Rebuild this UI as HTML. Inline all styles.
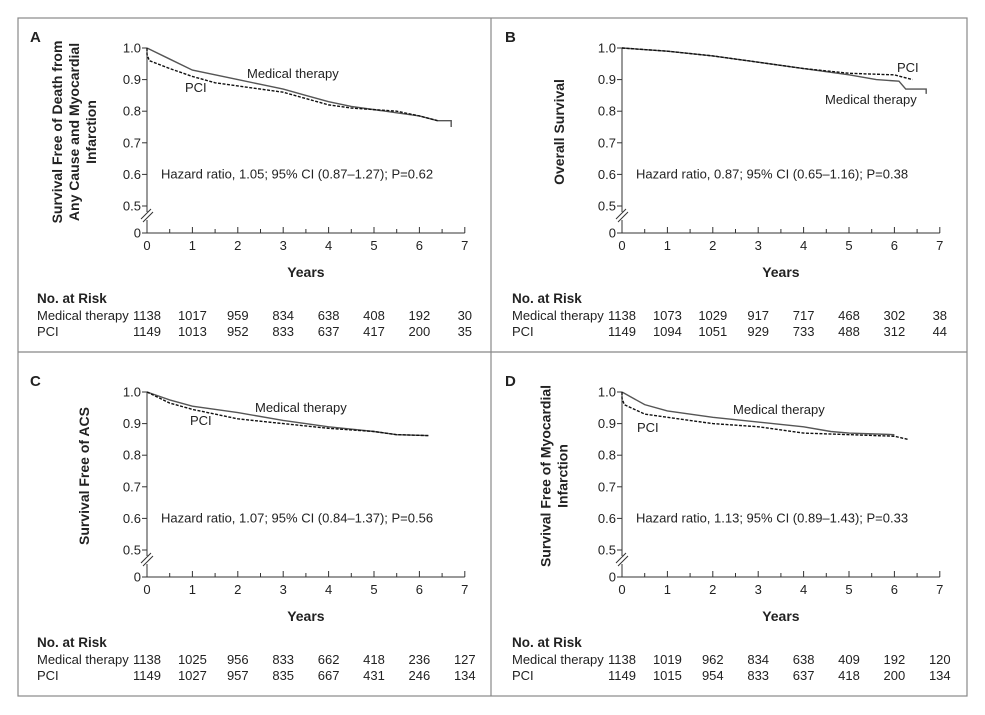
<!DOCTYPE html>
<html><head><meta charset="utf-8"><style>
body{margin:0;background:#fff;}
svg{display:block;font-family:"Liberation Sans",sans-serif;}
text{fill:#222;}
</style></head><body>
<svg id="fig" width="985" height="715">
<rect x="18" y="18" width="949" height="678" fill="none" stroke="#888" stroke-width="1.2"/>
<line x1="491" y1="18" x2="491" y2="696" stroke="#888" stroke-width="1.2"/>
<line x1="18" y1="352" x2="967" y2="352" stroke="#888" stroke-width="1.2"/>
</svg>
<script>
const panelLetters=["A","B","C","D"];
const yTitles=[["Survival Free of Death from","Any Cause and Myocardial","Infarction"],["Overall Survival"],["Survival Free of ACS"],["Survival Free of Myocardial","Infarction"]];
const hazardTexts=["Hazard ratio, 1.05; 95% CI (0.87\u20131.27); P=0.62","Hazard ratio, 0.87; 95% CI (0.65\u20131.16); P=0.38","Hazard ratio, 1.07; 95% CI (0.84\u20131.37); P=0.56","Hazard ratio, 1.13; 95% CI (0.89\u20131.43); P=0.33"];
const yTickLabels=["0","0.5","0.6","0.7","0.8","0.9","1.0"];
const yTickValues=[0,0.5,0.6,0.7,0.8,0.9,1.0];
const xTickValues=[0,1,2,3,4,5,6,7];
const riskMed=[[1138,1017,959,834,638,408,192,30],[1138,1073,1029,917,717,468,302,38],[1138,1025,956,833,662,418,236,127],[1138,1019,962,834,638,409,192,120]];
const riskPci=[[1149,1013,952,833,637,417,200,35],[1149,1094,1051,929,733,488,312,44],[1149,1027,957,835,667,431,246,134],[1149,1015,954,833,637,418,200,134]];
const medT=[[0,0.5,1,1.5,2,2.5,3,3.5,4,4.5,5,5.5,6,6.4,6.7,6.7],[0,1,2,3,4,5,5.6,6.1,6.25,6.7,6.7],[0,0.5,1,2,3,4,5,5.5,6.2],[0,0.5,1,2,3,4,4.6,5,6]];
const medS=[[1.0,0.965,0.93,0.915,0.9,0.885,0.87,0.85,0.83,0.815,0.805,0.795,0.785,0.77,0.77,0.75],[1.0,0.99,0.975,0.955,0.935,0.915,0.9,0.895,0.87,0.87,0.855],[1.0,0.975,0.955,0.935,0.91,0.89,0.875,0.865,0.862],[1.0,0.96,0.94,0.92,0.905,0.89,0.875,0.87,0.865]];
const pciT=[[0,0.05,0.5,1,1.5,2,2.5,3,3.5,4,4.5,5,5.5,6,6.4],[0,1,2,3,4,5,6,6.4],[0,0.5,1,2,3,4,5,5.5,6.2],[0,0.05,0.5,1,2,3,4,5,6,6.3]];
const pciS=[[0.98,0.96,0.935,0.91,0.89,0.88,0.87,0.86,0.84,0.82,0.81,0.805,0.8,0.785,0.77],[1.0,0.99,0.975,0.955,0.935,0.92,0.915,0.9],[1.0,0.965,0.945,0.915,0.9,0.885,0.875,0.865,0.862],[0.98,0.96,0.93,0.92,0.9,0.89,0.87,0.865,0.86,0.85]];
const medLabelPos=[[247,78],[825,104],[255,412],[733,414]];
const pciLabelPos=[[185,92],[897,72],[190,425],[637,432]];
const NS="http://www.w3.org/2000/svg";
const svg=document.getElementById('fig');
function mk(tag,attrs,parent,txt){const e=document.createElementNS(NS,tag);for(const k in attrs)e.setAttribute(k,attrs[k]);if(txt!==undefined)e.textContent=txt;(parent||svg).appendChild(e);return e;}
const origins=[[147,0],[622,0],[147,344],[622,344]];
const pxPerYear=45.4;
origins.forEach((o,p)=>{
  const ox=o[0],dy=o[1];
  const y1=48+dy,y0=233+dy;
  const X=t=>ox+t*pxPerYear;
  const Y=v=>v>=0.5?y1+(1-v)*316:y0;
  const g=mk('g',{});
  
  
  let t=mk('text',{x:ox-117,y:48+dy-6,'font-size':15,'font-weight':'bold'},g,panelLetters[p]);
  
  let a=mk('path',{d:`M${ox},${y1}V${Y(0.5)+6}M${ox},${Y(0.5)+14}V${y0}H${X(7)}`,stroke:'#333',fill:'none','stroke-width':1},g);
  
  let br=mk('path',{d:`M${ox-6},${Y(0.5)+13}L${ox+4},${Y(0.5)+3}M${ox-4},${Y(0.5)+16}L${ox+6},${Y(0.5)+6}`,stroke:'#333','stroke-width':1},g);
  
  yTickValues.forEach((v,i)=>{
    mk('line',{x1:ox-5,x2:ox,y1:Y(v),y2:Y(v),stroke:'#333'},g);
    const l=mk('text',{x:ox-6,y:Y(v)+4.5,'font-size':13,'text-anchor':'end'},g,yTickLabels[i]);
    
  });
  for(let h=0;h<=14;h++){mk('line',{x1:X(h/2),x2:X(h/2),y1:y0,y2:y0-(h%2?4:6),stroke:'#333'},g);}
  xTickValues.forEach(v=>{const l=mk('text',{x:X(v),y:y0+17,'font-size':13,'text-anchor':'middle'},g,String(v));});
  let xt=mk('text',{x:X(3.5),y:y0+44,'font-size':14,'font-weight':'bold','text-anchor':'middle'},g,'Years');
  
  const lines=yTitles[p];const cy=(y1+Y(0.5))/2+5;const cx=ox-58-(lines.length-1)*5;
  let yt=mk('text',{transform:`translate(${cx},${cy}) rotate(-90)`,'font-size':14,'font-weight':'bold','text-anchor':'middle'},g);
  
  lines.forEach((s,i)=>mk('tspan',{x:0,dy:i?17:-(lines.length-1)*8.5},yt,s));
  function curve(ts,ss){let d=`M${X(ts[0])},${Y(1)}V${Y(ss[0])}`;for(let i=1;i<ts.length;i++){d+=`L${X(ts[i])},${Y(ss[i])}`;}return d;}
  let pm=mk('path',{d:curve(medT[p],medS[p]),stroke:'#555',fill:'none','stroke-width':1.4},g);
  
  let pp=mk('path',{d:curve(pciT[p],pciS[p]),stroke:'#111',fill:'none','stroke-width':1.4,'stroke-dasharray':'3,1.5'},g);
  
  let ml=mk('text',{x:medLabelPos[p][0],y:medLabelPos[p][1],'font-size':13},g,'Medical therapy');
  
  let pl=mk('text',{x:pciLabelPos[p][0],y:pciLabelPos[p][1],'font-size':13},g,'PCI');
  
  let hz=mk('text',{x:ox+14,y:Y(0.6)+4,'font-size':13},g,hazardTexts[p]);
  
  const lx=ox-110;
  let nr=mk('text',{x:lx,y:y0+70,'font-size':13.5,'font-weight':'bold'},g,'No. at Risk');
  
  let r1=mk('text',{x:lx,y:y0+87,'font-size':13},g,'Medical therapy');
  
  let r2=mk('text',{x:lx,y:y0+103,'font-size':13},g,'PCI');
  
  xTickValues.forEach((v,i)=>{
    const a1=mk('text',{x:X(v),y:y0+87,'font-size':13,'text-anchor':'middle'},g,String(riskMed[p][i]));
    
    const a2=mk('text',{x:X(v),y:y0+103,'font-size':13,'text-anchor':'middle'},g,String(riskPci[p][i]));
    
  });
});
</script>
</body></html>
